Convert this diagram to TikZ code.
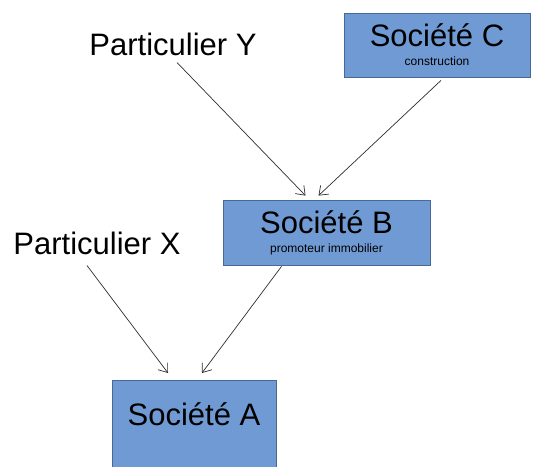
\documentclass[tikz,border=0pt]{standalone}
\usepackage{fontspec}
\setmainfont{Liberation Sans}
\usetikzlibrary{arrows.meta}

\definecolor{boxfill}{RGB}{112,154,212}
\definecolor{boxline}{RGB}{72,104,152}
\definecolor{arrline}{RGB}{45,45,45}

\begin{document}
\begin{tikzpicture}[x=1pt,y=-1pt,
        societe/.style={draw=boxline,fill=boxfill,line width=0.8pt,align=center,inner sep=0pt,
            font=\fontsize{31}{19}\selectfont},
        perso/.style={inner sep=0pt,anchor=base,font=\fontsize{31}{37}\selectfont},
        arr/.style={draw=arrline,line width=0.7pt,-{Straight Barb[length=8pt,width=12pt]}}]
        \useasboundingbox (0,0) rectangle (535,466);
        \node[perso] (pY) at (173,55) {Particulier Y};
        \node[perso] (pX) at (97,254) {Particulier X};
        \node[societe,minimum width=186pt,minimum height=64pt] (socC) at (437,45)
            {Société C\\{\fontsize{12}{12}\selectfont construction}};
        \node[societe,minimum width=207pt,minimum height=65pt] (socB) at (326.5,232.5)
            {Société B\\{\fontsize{12}{12}\selectfont promoteur immobilier}};
        \node[societe,anchor=north,minimum width=164pt,text height=45pt,text depth=45pt] (socA) at (194,380)
            {Société A};
        \draw[arr] ([xshift=4pt,yshift=-7pt]pY.south) -- ([xshift=-21pt,yshift=4pt]socB.north);
        \draw[arr] ([xshift=4pt,yshift=-3pt]socC.south) -- ([xshift=-8pt,yshift=4pt]socB.north);
        \draw[arr] ([xshift=-10pt,yshift=-11pt]pX.south) -- ([xshift=-26pt,yshift=7pt]socA.north);
        \draw[arr] ([xshift=-45pt,yshift=-1pt]socB.south) -- ([xshift=8pt,yshift=7pt]socA.north);
\end{tikzpicture}
\end{document}
